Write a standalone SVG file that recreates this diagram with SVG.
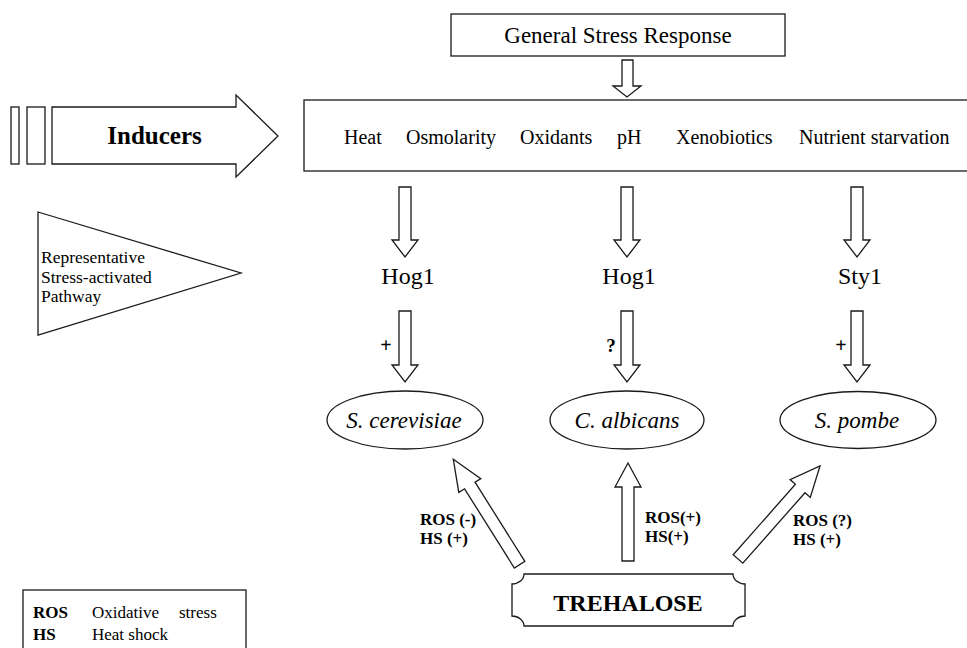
<svg xmlns="http://www.w3.org/2000/svg" width="967" height="648" viewBox="0 0 967 648">
<style>
.s{fill:#fff;stroke:#1a1a1a;stroke-width:1.3}
.t{font-family:"Liberation Serif","Times New Roman",serif;fill:#000}
.b{font-weight:bold}
.i{font-style:italic}
</style>
<rect width="967" height="648" fill="#fff"/>
<g id="inducers">
<rect class="s" x="11" y="107" width="8" height="57"/>
<rect class="s" x="27" y="107" width="18" height="57"/>
<polygon class="s" points="52,107 236,107 236,95 278,136 236,177 236,164 52,164"/>
<text class="t b" x="154.5" y="144" font-size="25" text-anchor="middle">Inducers</text>
</g>
<g id="pathway-label">
<polygon class="s" points="38,212 241,273 38,335"/>
<text class="t" x="41" y="263" font-size="17.5">Representative</text>
<text class="t" x="41" y="282.5" font-size="17.5">Stress-activated</text>
<text class="t" x="41" y="302" font-size="17.5">Pathway</text>
</g>
<g id="general-stress-response">
<rect class="s" x="451" y="14" width="334" height="42"/>
<text class="t" x="618" y="43" font-size="23" text-anchor="middle">General Stress Response</text>
</g>
<g id="stressors">
<rect class="s" x="304" y="100" width="680" height="71"/>
<text class="t" x="344" y="144" font-size="20">Heat</text>
<text class="t" x="406" y="144" font-size="20">Osmolarity</text>
<text class="t" x="520" y="144" font-size="20">Oxidants</text>
<text class="t" x="617" y="144" font-size="20">pH</text>
<text class="t" x="676" y="144" font-size="20">Xenobiotics</text>
<text class="t" x="799" y="144" font-size="20">Nutrient starvation</text>
</g>
<g id="hog1-sc"><text class="t" x="408" y="284" font-size="24" text-anchor="middle">Hog1</text></g>
<g id="hog1-ca"><text class="t" x="629" y="284" font-size="24" text-anchor="middle">Hog1</text></g>
<g id="sty1-sp"><text class="t" x="860" y="284" font-size="24" text-anchor="middle">Sty1</text></g>
<g id="s-cerevisiae">
<ellipse class="s" cx="405" cy="420" rx="78" ry="29"/>
<text class="t i" x="404" y="428" font-size="23" text-anchor="middle">S. cerevisiae</text>
</g>
<g id="c-albicans">
<ellipse class="s" cx="627" cy="420" rx="77" ry="29"/>
<text class="t i" x="627" y="428" font-size="23" text-anchor="middle">C. albicans</text>
</g>
<g id="s-pombe">
<ellipse class="s" cx="858" cy="420" rx="78" ry="28.5"/>
<text class="t i" x="857" y="428" font-size="23" text-anchor="middle">S. pombe</text>
</g>
<g id="trehalose">
<path class="s" d="M524,574 L733,574 A12,10 0 0 0 745,584 L745,616 A12,10 0 0 0 733,626 L524,626 A12,10 0 0 0 512,616 L512,584 A12,10 0 0 0 524,574 Z"/>
<text class="t b" x="628" y="611" font-size="24" text-anchor="middle">TREHALOSE</text>
</g>
<g id="legend">
<rect class="s" x="23" y="590" width="223" height="80"/>
<text class="t b" x="33" y="618" font-size="17">ROS</text>
<text class="t" x="92" y="618" font-size="17">Oxidative</text>
<text class="t" x="179" y="618" font-size="17">stress</text>
<text class="t b" x="33" y="640" font-size="17">HS</text>
<text class="t" x="92" y="640" font-size="17">Heat shock</text>
</g>
<g id="connectors">
<polygon class="s" points="622,60 633,60 633,86 641,86 627,97 613,86 622,86"/>
<polygon class="s" points="399,187 411,187 411,240 418,240 405,257 392,240 399,240"/>
<polygon class="s" points="399,311 411,311 411,365 418,365 405,382 392,365 399,365"/>
<polygon class="s" points="621,187 633,187 633,240 640,240 627,257 614,240 621,240"/>
<polygon class="s" points="621,311 633,311 633,365 640,365 627,382 614,365 621,365"/>
<polygon class="s" points="851,187 863,187 863,240 870,240 857,257 844,240 851,240"/>
<polygon class="s" points="851,311 863,311 863,365 870,365 857,382 844,365 851,365"/>
<polygon class="s" points="453.3,459.3 480.8,478.6 475.05,482.2 524.85,561.4 514.35,568 464.55,488.8 458.8,492.4"/>
<polygon class="s" points="628,463 641,487 634,487 634,561 622,561 622,487 615,487"/>
<polygon class="s" points="820,466 810.3,497.4 805,492.7 742.8,563.2 733.2,554.8 795.4,484.3 790.1,479.6"/>
<text class="t b" x="386" y="352" font-size="20" text-anchor="middle">+</text>
<text class="t b" x="611" y="352" font-size="19" text-anchor="middle">?</text>
<text class="t b" x="841" y="352" font-size="20" text-anchor="middle">+</text>
<text class="t b" x="420" y="525" font-size="17">ROS (-)</text>
<text class="t b" x="420" y="544" font-size="17">HS (+)</text>
<text class="t b" x="645" y="523" font-size="17">ROS(+)</text>
<text class="t b" x="645" y="542" font-size="17">HS(+)</text>
<text class="t b" x="793" y="526" font-size="17">ROS (?)</text>
<text class="t b" x="793" y="545" font-size="17">HS (+)</text>
</g>
</svg>
